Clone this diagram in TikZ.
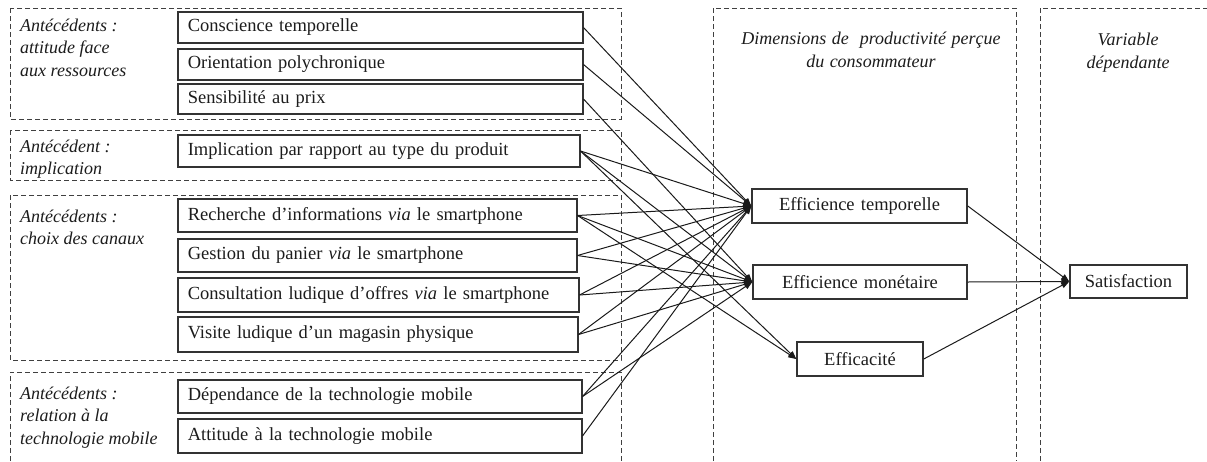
\documentclass[tikz,border=0pt]{standalone}
\usepackage{fontspec}
\setmainfont{Liberation Serif}
\usetikzlibrary{arrows.meta}
\definecolor{boxc}{HTML}{333333}
\definecolor{dashc}{HTML}{404040}
\definecolor{linec}{HTML}{1A1A1A}
\definecolor{txtc}{HTML}{1C1C1C}
\newcommand\myWideSp{\spaceskip=6.2pt plus 1pt minus 1pt\relax}
\newcommand\myTtlSp{\spaceskip=5.5pt plus 1pt minus 1pt\relax}
\begin{document}
\begin{tikzpicture}[x=1pt,y=-1pt,
  font=\fontsize{18.5}{22.5}\selectfont, text=txtc,
  grp/.style={draw=dashc, dash pattern=on 5pt off 3pt, line width=1pt},
  lbox/.style={draw=boxc, line width=1.5pt, anchor=west, inner xsep=10pt, inner ysep=0pt, align=left, execute at begin node=\myWideSp},
  rbox/.style={draw=boxc, line width=1.5pt, inner sep=0pt, align=center, execute at begin node=\myWideSp},
  lab/.style={font=\fontsize{18}{22.5}\selectfont\itshape, anchor=north west, align=left, inner sep=0pt},
  ttl/.style={font=\fontsize{18}{23}\selectfont\itshape, anchor=north, align=center, inner sep=0pt, execute at begin node=\myTtlSp},
  conn/.style={draw=linec, line width=1pt, -{Triangle[length=8pt,width=6pt]}}]
\useasboundingbox (0,0) rectangle (1207,461);

% dashed groups
\draw[grp] (10,8) rectangle (621,119);
\draw[grp] (10,130) rectangle (621,180);
\draw[grp] (10,195) rectangle (621,360);
\draw[grp] (10,461) -- (10,372) -- (621,372) -- (621,461);
\draw[grp] (713,461) -- (713,8) -- (1016,8) -- (1016,461);
\draw[grp] (1040,461) -- (1040,8) -- (1207,8);

% group labels
\node[lab] (g1) at (20,18.5) {Antécédents :\\attitude face\\aux ressources};
\node[lab] (g2) at (20,139.5) {Antécédent :\\implication};
\node[lab] (g3) at (20,209.5) {Antécédents :\\choix des canaux};
\node[lab] (g4) at (20,386.5) {Antécédents :\\relation à la\\technologie mobile};
\node[ttl] (t1) at (871,32) {Dimensions de \ productivité perçue\\du consommateur};
\node[ttl] (t2) at (1128,33) {Variable\\dépendante};

% left boxes
\node[lbox, text width=385pt, minimum height=31pt] (c1) at (177,27.5) {Conscience temporelle};
\node[lbox, text width=385pt, minimum height=31pt] (c2) at (177,64.5) {Orientation polychronique};
\node[lbox, text width=385pt, minimum height=30pt] (c3) at (177,99) {Sensibilité au prix};
\node[lbox, text width=382pt, minimum height=32pt] (i1) at (177,151) {Implication par rapport au type du produit};
\node[lbox, text width=379pt, minimum height=33pt] (s1) at (177,215.5) {Recherche d’informations \textit{via} le smartphone};
\node[lbox, text width=379pt, minimum height=33pt] (s2) at (177,255.5) {Gestion du panier \textit{via} le smartphone};
\node[lbox, text width=381pt, minimum height=34pt] (s3) at (177,295) {Consultation ludique d’offres \textit{via} le smartphone};
\node[lbox, text width=380pt, minimum height=35pt] (s4) at (177,334.5) {Visite ludique d’un magasin physique};
\node[lbox, text width=384pt, minimum height=33pt] (m1) at (177,396.5) {Dépendance de la technologie mobile};
\node[lbox, text width=384pt, minimum height=34pt] (m2) at (177,436) {Attitude à la technologie mobile};

% right boxes
\node[rbox, minimum width=215pt, minimum height=34pt] (et) at (859.5,206) {Efficience temporelle};
\node[rbox, minimum width=214pt, minimum height=34pt] (em) at (860,282) {Efficience monétaire};
\node[rbox, minimum width=126pt, minimum height=34pt] (ef) at (860,359) {Efficacité};
\node[rbox, minimum width=117pt, minimum height=33pt] (sat) at (1128.5,281.5) {Satisfaction};

% connectors to Efficience temporelle
\foreach \s in {c1,c2,i1,s1,s2,s3,s4,m1,m2}
  \draw[conn] (\s.east) -- (et.west);
% connectors to Efficience monetaire
\foreach \s in {c3,i1,s1,s2,s3,s4,m1}
  \draw[conn] (\s.east) -- (em.west);
% connectors to Efficacite
\foreach \s in {i1,s1}
  \draw[conn] (\s.east) -- (ef.west);
% to satisfaction
\foreach \s in {et,em,ef}
  \draw[conn] (\s.east) -- (sat.west);
\end{tikzpicture}
\end{document}
